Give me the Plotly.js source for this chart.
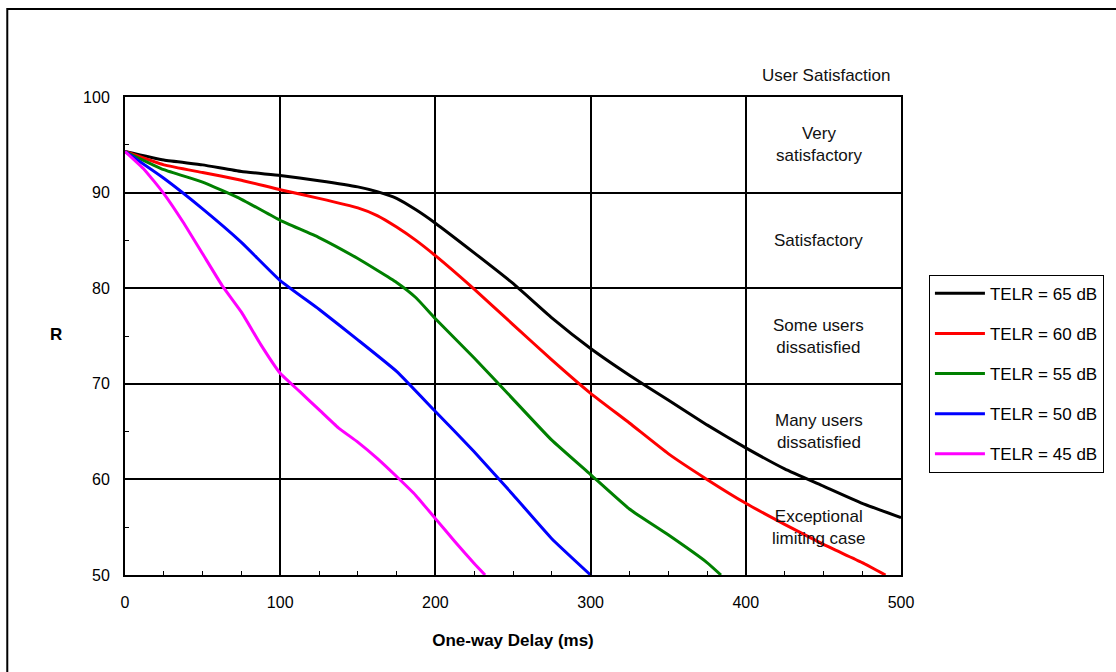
<!DOCTYPE html>
<html>
<head>
<meta charset="utf-8">
<script src="https://cdn.plot.ly/plotly-3.0.1.min.js"></script>
<style>html,body{margin:0;padding:0;background:#fff;}#chart{width:1116px;height:672px;}</style>
</head>
<body>
<div id="chart"></div>
<script>
// Data
var delay65 = [0,25,50,75,100,125,150,162.5,175,187.5,200,225,250,275,300,325,350,375,400,425,450,475,500];
var r65 = [94.3,93.4,92.9,92.2,91.8,91.25,90.6,90.1,89.4,88.2,86.8,83.7,80.5,76.9,73.7,70.9,68.3,65.7,63.3,61.1,59.3,57.5,56.0];

var delay60 = [0,25,50,75,100,125,150,162.5,175,187.5,200,225,250,275,300,325,350,375,400,425,450,475,490];
var r60 = [94.3,92.9,92.1,91.3,90.3,89.4,88.4,87.6,86.4,85.0,83.4,79.9,76.2,72.5,69.0,65.9,62.7,60.0,57.5,55.3,53.2,51.3,50.0];

var delay55 = [0,25,50,75,100,125,150,175,187.5,200,225,250,275,300,325,350,375,384];
var r55 = [94.3,92.4,91.1,89.3,87.1,85.3,83.1,80.6,79.0,76.8,72.7,68.4,64.1,60.5,56.9,54.2,51.3,50.0];

var delay50 = [0,25,50,75,100,125,150,175,200,225,250,275,300];
var r50 = [94.3,91.5,88.3,84.8,80.8,77.8,74.6,71.3,67.1,62.9,58.4,53.8,50.0];

var delay45 = [0,12.5,25,37.5,50,62.5,75,87.5,100,112.5,125,137.5,150,162.5,175,187.5,200,212.5,225,232];
var r45 = [94.3,92.4,89.9,86.9,83.6,80.3,77.5,74.1,71.1,69.2,67.3,65.4,63.9,62.2,60.3,58.3,55.9,53.5,51.2,50.0];

var seriesNames = ["TELR = 65 dB","TELR = 60 dB","TELR = 55 dB","TELR = 50 dB","TELR = 45 dB"];
var seriesColors = ["#000000","#FF0000","#008000","#0000FF","#FF00FF"];

var zoneLabels = ["Very<br>satisfactory","Satisfactory","Some users<br>dissatisfied","Many users<br>dissatisfied","Exceptional<br>limiting case"];
var zoneR = [95,85,75,65,55];
var zoneX = 447;

var xs = [delay65,delay60,delay55,delay50,delay45];
var ys = [r65,r60,r55,r50,r45];

var font = "Arial, 'Liberation Sans', sans-serif";
var traces = [];
for (var i = 0; i < xs.length; i++) {
  traces.push({
    x: xs[i], y: ys[i], type: 'scatter', mode: 'lines',
    name: seriesNames[i], legendgroup: 'g' + i,
    line: {color: seriesColors[i], width: 3, shape: 'spline', smoothing: 0.4},
    hoverinfo: 'x+y'
  });
}

var annotations = [];
for (var j = 0; j < zoneLabels.length; j++) {
  annotations.push({
    x: zoneX, y: zoneR[j], xref: 'x', yref: 'y', text: zoneLabels[j],
    showarrow: false, align: 'center',
    font: {family: font, size: 17, color: '#111'}
  });
}
annotations.push({
  x: 0.9036, y: 1.046, xref: 'paper', yref: 'paper', text: 'User Satisfaction',
  showarrow: false, xanchor: 'center', yanchor: 'middle',
  font: {family: font, size: 17, color: '#111'}
});
annotations.push({
  x: -0.0895, y: 0.504, xref: 'paper', yref: 'paper', text: '<b>R</b>',
  showarrow: false, xanchor: 'center', yanchor: 'middle',
  font: {family: font, size: 17, color: '#000'}
});

var layout = {
  width: 1116, height: 672,
  margin: {l: 125, r: 213, t: 97, b: 97},
  paper_bgcolor: '#ffffff', plot_bgcolor: '#ffffff',
  font: {family: font, size: 16, color: '#000'},
  showlegend: true,
  legend: {
    x: 1.036, y: 0.628, xanchor: 'left', yanchor: 'top',
    bordercolor: '#000', borderwidth: 1, bgcolor: '#fff',
    font: {family: font, size: 17, color: '#000'},
    tracegroupgap: 15, itemwidth: 50
  },
  xaxis: {
    range: [0, 500], dtick: 100, tick0: 0,
    showgrid: true, gridcolor: '#000', gridwidth: 2,
    showline: true, linecolor: '#000', linewidth: 2, mirror: true,
    zeroline: false,
    ticks: 'inside', ticklen: 4, tickcolor: '#000',
    ticklabelstandoff: 12,
    tickfont: {family: font, size: 16, color: '#000'},
    minor: {dtick: 25, ticks: 'inside', ticklen: 4, tickcolor: '#000', showgrid: false},
    title: {text: '<b>One-way Delay (ms)</b>', font: {family: font, size: 17, color: '#000'}, standoff: 24}
  },
  yaxis: {
    range: [50, 100], dtick: 10, tick0: 50,
    showgrid: true, gridcolor: '#000', gridwidth: 2,
    showline: true, linecolor: '#000', linewidth: 2, mirror: true,
    zeroline: false,
    ticks: 'inside', ticklen: 4, tickcolor: '#000',
    ticklabelstandoff: 10,
    tickfont: {family: font, size: 16, color: '#000'},
    minor: {dtick: 5, ticks: 'inside', ticklen: 4, tickcolor: '#000', showgrid: false},
    title: {text: ''}
  },
  annotations: annotations,
  shapes: [{
    type: 'rect', xref: 'paper', yref: 'paper',
    x0: -0.1517, x1: 1.6, y0: -0.4, y1: 1.184,
    line: {color: '#000', width: 2}, fillcolor: 'rgba(0,0,0,0)', layer: 'below'
  }]
};

Plotly.newPlot('chart', traces, layout, {displayModeBar: false, staticPlot: true});
</script>
</body>
</html>
